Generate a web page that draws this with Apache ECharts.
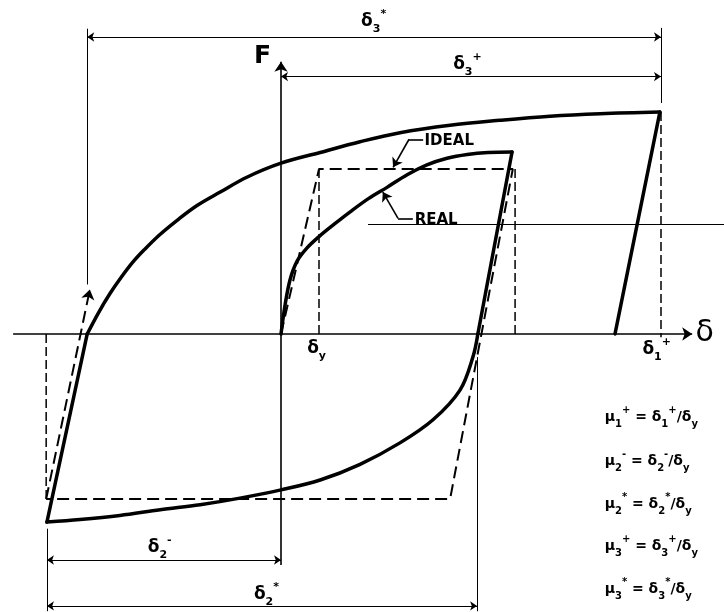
<!DOCTYPE html>
<html>
<head>
<meta charset="utf-8">
<script src="https://cdn.jsdelivr.net/npm/echarts@6/dist/echarts.min.js"></script>
<style>
  html, body { margin: 0; padding: 0; background: #fff; }
  #chart { width: 724px; height: 612px; }
</style>
</head>
<body>
<div id="chart"></div>
<script>
// Force–displacement hysteresis: displacement δ in units of δy, force F in units of Fy.

// REAL response, traced in order along the loading history
const realFirstLoad = [[0,0],[0.11,0.18],[0.24,0.33],[0.42,0.44],[0.68,0.52],[1.0,0.59],[1.4,0.665],[1.82,0.74],[2.3,0.82],[2.8,0.89],[3.32,0.965],[3.84,1.025],[4.37,1.065],[4.9,1.088],[5.45,1.1],[6.08,1.103]];
const realFirstUnload = [[6.08,1.103],[5.18,0]];
const realReverse = [[5.18,0],[5.05,-0.14],[4.71,-0.34],[4.0,-0.52],[3.13,-0.66],[2.08,-0.79],[1.03,-0.885],[0,-0.945],[-1.08,-0.995],[-2.13,-1.035],[-3.18,-1.065],[-4.24,-1.1],[-5.29,-1.125],[-6.16,-1.14]];
const realReload = [[-6.16,-1.14],[-5.1,0]];
const realEnvelope = [[-5.1,0],[-4.8,0.13],[-4.5,0.245],[-4.2,0.345],[-3.9,0.435],[-3.6,0.51],[-3.2,0.6],[-2.7,0.695],[-2.2,0.78],[-1.6,0.86],[-0.9,0.95],[0,1.035],[1.03,1.1],[2.08,1.165],[3.13,1.22],[4.45,1.265],[5.76,1.295],[7.08,1.32],[8.4,1.335],[9.97,1.345]];
const realFinalUnload = [[9.97,1.345],[8.79,0]];

// IDEAL elasto-plastic response
const idealPath = [[0,0],[1,1],[6.1,1],[4.45,-1],[-6.18,-1],[-5.03,0.27]];

// Reference displacements
const deltaY = 1;
const deltaPeak = 6.16;
const delta1Plus = 10;
const delta2Minus = -6.18;
const deltaReloadZero = -5.1;
const deltaUnloadZero = 5.16;
const forceMax = 1.345;

// Dimension levels (F units)
const levelDelta3Star = 1.8;
const levelDelta3Plus = 1.56;
const levelDelta2Minus = -1.37;
const levelDelta2Star = -1.648;

// Ductility definitions
const ductilityRows = [
  ['μ', '1', '+', 'δ', '1', '+'],
  ['μ', '2', '-', 'δ', '2', '-'],
  ['μ', '2', '*', 'δ', '2', '*'],
  ['μ', '3', '+', 'δ', '3', '+'],
  ['μ', '3', '*', 'δ', '3', '*']
];
const ductilityRowLevels = [-0.51, -0.775, -1.035, -1.29, -1.55];

const INK = '#000';
const FONT = '"DejaVu Sans", "Liberation Sans", sans-serif';

const chart = echarts.init(document.getElementById('chart'), null, { renderer: 'canvas' });

function curve(data, width, smooth) {
  return {
    type: 'line', data, symbol: 'none', showSymbol: false, silent: true,
    smooth: smooth ? 0.35 : false,
    lineStyle: { color: INK, width, cap: 'round', join: 'round' }, z: 5
  };
}
function dashed(data, width, dash) {
  return {
    type: 'line', data, symbol: 'none', showSymbol: false, silent: true,
    lineStyle: { color: INK, width, type: dash }, z: 4
  };
}
function segs(list, width, symbols, size, type) {
  return {
    type: 'lines', coordinateSystem: 'cartesian2d', silent: true, polyline: false,
    symbol: symbols, symbolSize: size,
    lineStyle: { color: INK, width, opacity: 1, curveness: 0, type: type || 'solid' },
    data: list.map(c => ({ coords: c })), z: 3
  };
}

function txt(size, va, lh) {
  return { fontSize: size, fontWeight: 'bold', fontFamily: FONT, color: INK, verticalAlign: va, lineHeight: lh };
}
const richText = {
  d: txt(17, 'middle', 26), s: txt(11, 'bottom', 26), p: txt(11, 'top', 26),
  m: txt(14, 'middle', 24), ms: txt(10, 'bottom', 24), mp: txt(10, 'top', 24)
};

function deltaLabel(s, p) { return '{d|δ}{s|' + s + '}' + (p ? '{p|' + p + '}' : ''); }

function textItem(x, y, formatter, align, extra) {
  return {
    value: [x, y],
    label: Object.assign({
      show: true, formatter, position: [0, 0], align: align || 'center', verticalAlign: 'middle',
      rich: richText, opacity: 1, color: INK
    }, extra || {})
  };
}

const labels = [
  textItem(-0.47, 1.68, 'F', 'center', { fontSize: 25, fontWeight: 'bold', fontFamily: FONT }),
  textItem(11.16, 0.0, 'δ', 'center', { fontSize: 30, fontFamily: FONT }),
  textItem(2.45, 1.89, deltaLabel('3', '*')),
  textItem(4.92, 1.63, deltaLabel('3', '+')),
  textItem(0.95, -0.09, deltaLabel('y', '')),
  textItem(9.9, -0.1, deltaLabel('1', '+')),
  textItem(-3.18, -1.297, deltaLabel('2', '-')),
  textItem(-0.37, -1.58, deltaLabel('2', '*')),
  textItem(3.79, 1.165, 'IDEAL', 'left', { fontSize: 15, fontWeight: 'bold', fontFamily: FONT }),
  textItem(3.53, 0.69, 'REAL', 'left', { fontSize: 15, fontWeight: 'bold', fontFamily: FONT })
];
ductilityRows.forEach((r, i) => {
  const f = '{m|' + r[0] + '}{ms|' + r[1] + '}{mp|' + r[2] + '}{m| = ' + r[3] + '}{ms|' + r[4] + '}{mp|' + r[5] + '}{m|/δ}{ms|y}';
  labels.push(textItem(8.53, ductilityRowLevels[i], f, 'left'));
});

const option = {
  animation: false,
  backgroundColor: '#fff',
  grid: { left: 0, right: 0, top: 0, bottom: 0 },
  xAxis: { type: 'value', min: -7.395, max: 11.658, show: false },
  yAxis: { type: 'value', min: -1.685, max: 2.024, show: false },
  series: [
    // coordinate axes with arrowheads
    segs([[[-7.05, 0], [10.82, 0]], [[0, -1.4], [0, 1.65]]], 1.6, ['none', 'arrow'], [0, 10]),
    // dimension lines
    segs([
      [[deltaReloadZero, levelDelta3Star], [delta1Plus, levelDelta3Star]],
      [[0, levelDelta3Plus], [delta1Plus, levelDelta3Plus]],
      [[delta2Minus + 0.02, levelDelta2Minus], [0, levelDelta2Minus]],
      [[delta2Minus + 0.02, levelDelta2Star], [deltaUnloadZero, levelDelta2Star]]
    ], 1, ['arrow', 'arrow'], 7),
    // extension lines
    segs([
      [[deltaReloadZero, 1.85], [deltaReloadZero, 0.3]],
      [[delta1Plus, 1.855], [delta1Plus, 1.4]],
      [[delta2Minus + 0.02, -1.18], [delta2Minus + 0.02, -1.68]],
      [[deltaUnloadZero, -0.14], [deltaUnloadZero, -1.68]],
      [[2.29, 0.667], [11.7, 0.667]]
    ], 1, ['none', 'none'], 0),
    // leader lines to the curves
    segs([[[3.74, 1.18], [3.37, 1.18]], [[3.47, 0.70], [3.08, 0.70]]], 1.6, ['none', 'none'], 0),
    segs([[[3.37, 1.18], [2.95, 1.01]], [[3.08, 0.70], [2.68, 0.86]]], 1.6, ['none', 'arrow'], [0, 9]),
    // projection lines
    dashed([[deltaY, 1], [deltaY, 0]], 1.5, [9, 4]),
    dashed([[deltaPeak, 1], [deltaPeak, 0]], 1.5, [9, 4]),
    dashed([[delta1Plus, forceMax], [delta1Plus, -0.02]], 1.5, [9, 4]),
    dashed([[delta2Minus, 0], [delta2Minus, -1]], 1.5, [9, 4]),
    // IDEAL path
    dashed(idealPath.slice(0, -1), 2, [12, 6]),
    segs([idealPath.slice(-2)], 2, ['none', 'arrow'], [0, 10], [12, 6]),
    // REAL path
    curve(realFirstLoad, 3.5, true),
    curve(realFirstUnload, 3.5, false),
    curve(realReverse, 3.5, true),
    curve(realReload, 3.5, false),
    curve(realEnvelope, 3.5, true),
    curve(realFinalUnload, 3.5, false),
    // text
    {
      type: 'scatter', silent: true, symbolSize: 1,
      itemStyle: { color: 'rgba(0,0,0,0)' }, data: labels, z: 10
    }
  ]
};
chart.setOption(option);
</script>
</body>
</html>
